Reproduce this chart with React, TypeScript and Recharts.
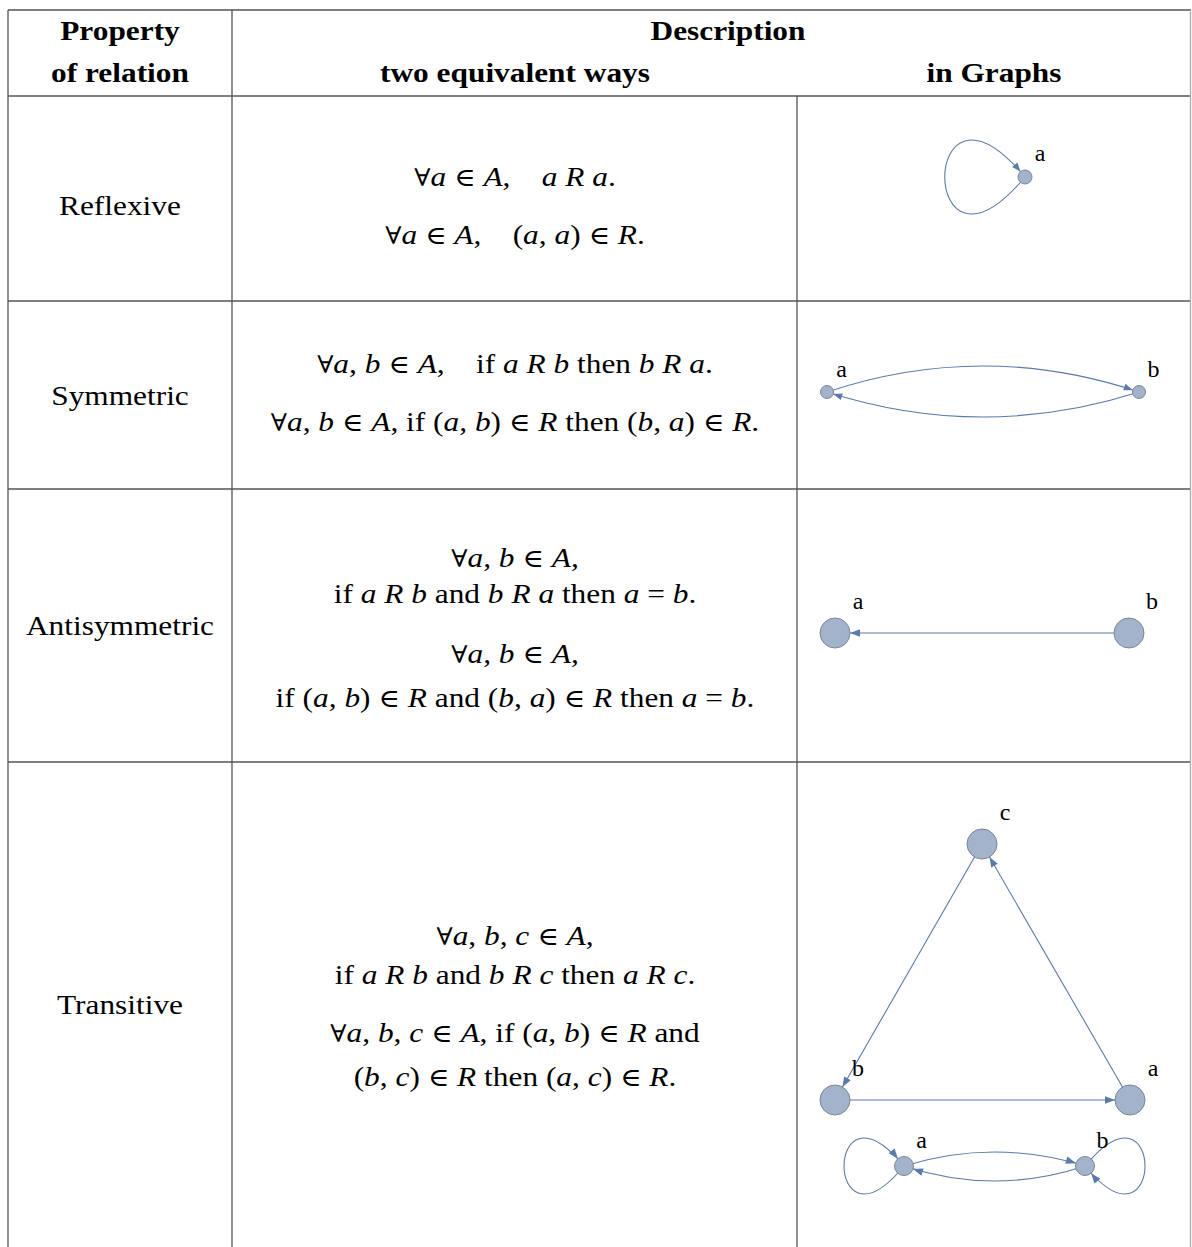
import React from 'react';
import { ScatterChart, Scatter, XAxis, YAxis } from 'recharts';

// header and row labels
const headerRow1 = ['Property', 'Description'];
const headerRow2 = ['of relation', 'two equivalent ways', 'in Graphs'];
const properties = ['Reflexive', 'Symmetric', 'Antisymmetric', 'Transitive'];

// description lines, $...$ marks math (letters italic)
const reflexiveLines = ['$∀a ∈ A,$\u2003$a R a.$', '$∀a ∈ A,$\u2003$(a, a) ∈ R.$'];
const symmetricLines = [
  '$∀a, b ∈ A,$\u2003if $a R b$ then $b R a.$',
  '$∀a, b ∈ A,$ if $(a, b) ∈ R$ then $(b, a) ∈ R.$',
];
const antisymmetricLines = [
  '$∀a, b ∈ A,$',
  'if $a R b$ and $b R a$ then $a = b.$',
  '$∀a, b ∈ A,$',
  'if $(a, b) ∈ R$ and $(b, a) ∈ R$ then $a = b.$',
];
const transitiveLines = [
  '$∀a, b, c ∈ A,$',
  'if $a R b$ and $b R c$ then $a R c.$',
  '$∀a, b, c ∈ A,$ if $(a, b) ∈ R$ and',
  '$(b, c) ∈ R$ then $(a, c) ∈ R.$',
];

type GNode = { name: string; x: number; y: number };
type GEdge = { from: string; to: string; via: number[][] };

// graph column coordinates (x right, y down)
const reflexiveNodes: GNode[] = [{ name: 'a', x: 228, y: 81 }];
const reflexiveEdges: GEdge[] = [{ from: 'a', to: 'a', via: [[121, 209], [121, -47]] }];

const symmetricNodes: GNode[] = [
  { name: 'a', x: 30, y: 296 },
  { name: 'b', x: 342, y: 296 },
];
const symmetricEdges: GEdge[] = [
  { from: 'a', to: 'b', via: [[186, 244]] },
  { from: 'b', to: 'a', via: [[186, 346]] },
];

const antisymmetricNodes: GNode[] = [
  { name: 'a', x: 38, y: 537 },
  { name: 'b', x: 332, y: 537 },
];
const antisymmetricEdges: GEdge[] = [{ from: 'b', to: 'a', via: [] }];

const transitiveNodes: GNode[] = [
  { name: 'c', x: 185, y: 748 },
  { name: 'b', x: 38, y: 1004 },
  { name: 'a', x: 333, y: 1004 },
];
const transitiveEdges: GEdge[] = [
  { from: 'c', to: 'b', via: [] },
  { from: 'a', to: 'c', via: [] },
  { from: 'b', to: 'a', via: [] },
];

const pairNodes: GNode[] = [
  { name: 'a', x: 107, y: 1070 },
  { name: 'b', x: 288, y: 1070 },
];
const pairEdges: GEdge[] = [
  { from: 'a', to: 'a', via: [[27, 1167], [27, 973]] },
  { from: 'a', to: 'b', via: [[197.5, 1042]] },
  { from: 'b', to: 'a', via: [[197.5, 1100]] },
  { from: 'b', to: 'b', via: [[368, 973], [368, 1167]] },
];

const graphs = [
  { nodes: reflexiveNodes, edges: reflexiveEdges, r: 7, head: 9 },
  { nodes: symmetricNodes, edges: symmetricEdges, r: 6.5, head: 9 },
  { nodes: antisymmetricNodes, edges: antisymmetricEdges, r: 15, head: 10 },
  { nodes: transitiveNodes, edges: transitiveEdges, r: 15, head: 10 },
  { nodes: pairNodes, edges: pairEdges, r: 9.5, head: 10 },
];

const descriptions = [reflexiveLines, symmetricLines, antisymmetricLines, transitiveLines];
const LABEL_Y = [215, 405, 635, 1014];
const DESC_Y = [[186, 244], [373, 431], [567, 603, 663, 707], [945, 984, 1042, 1086]];

const FONT = "'Liberation Serif', 'Times New Roman', serif";
const LINE = '#555';
const EDGE = '#5b7aa8';
const NODE_FILL = '#a3b3cb';
const NODE_STROKE = '#7a8696';
const STRETCH = 1.12;

const stretchAt = (cx: number) => `matrix(${STRETCH},0,0,1,${(1 - STRETCH) * cx},0)`;

const rich = (s: string) =>
  s.split('$').flatMap((seg, i) => {
    if (i % 2 === 0) return [<tspan key={`t${i}`}>{seg}</tspan>];
    return seg.split(/([A-Za-z]+|[∀∈])/).map((part, j) => {
      if (/^[∀∈]$/.test(part)) {
        return (
          <tspan key={`m${i}-${j}`} fontSize={part === '∈' ? 26 : 24} fontFamily="'DejaVu Serif', serif">
            {part}
          </tspan>
        );
      }
      return (
        <tspan key={`m${i}-${j}`} fontStyle={/^[A-Za-z]+$/.test(part) ? 'italic' : 'normal'}>
          {part}
        </tspan>
      );
    });
  });

const edgePoints = (nodes: GNode[], e: GEdge) => {
  const s = nodes.find((n) => n.name === e.from)!;
  const t = nodes.find((n) => n.name === e.to)!;
  return [{ x: s.x, y: s.y }, ...e.via.map(([x, y]) => ({ x, y })), { x: t.x, y: t.y }];
};

const edgeRenderer = (r: number, head: number) => (props: any) => {
  const pts: { x: number; y: number }[] = props.points || [];
  if (pts.length < 2) return <g />;
  const p0 = pts[0];
  const pn = pts[pts.length - 1];
  const prev = pts[pts.length - 2];
  let d = `M${p0.x},${p0.y}`;
  if (pts.length === 2) d += `L${pn.x},${pn.y}`;
  else if (pts.length === 3) d += `Q${pts[1].x},${pts[1].y} ${pn.x},${pn.y}`;
  else d += `C${pts[1].x},${pts[1].y} ${pts[2].x},${pts[2].y} ${pn.x},${pn.y}`;
  const dx = pn.x - prev.x;
  const dy = pn.y - prev.y;
  const len = Math.hypot(dx, dy) || 1;
  const ux = dx / len;
  const uy = dy / len;
  const tx = pn.x - ux * r;
  const ty = pn.y - uy * r;
  const bx = tx - ux * head;
  const by = ty - uy * head;
  const w = head * 0.38;
  return (
    <g>
      <path d={d} fill="none" stroke={EDGE} strokeWidth={1.1} />
      <polygon
        points={`${tx},${ty} ${bx - uy * w},${by + ux * w} ${bx + uy * w},${by - ux * w}`}
        fill={EDGE}
      />
    </g>
  );
};

const nodeRenderer = (r: number) => (props: any) => (
  <g>
    <circle cx={props.cx} cy={props.cy} r={r} fill={NODE_FILL} stroke={NODE_STROKE} strokeWidth={1} />
    <text
      x={props.cx + r + 8}
      y={props.cy - r - 9}
      textAnchor="middle"
      fontSize={24}
      fontFamily={FONT}
      fill="#000"
    >
      {props.payload?.name ?? props.name}
    </text>
  </g>
);

const blank = () => <g />;

export default function App() {
  return (
    <div style={{ position: 'absolute', left: 0, top: 0, width: 1192, height: 1247, background: '#fff' }}>
      <svg width={1192} height={1247} style={{ position: 'absolute', left: 0, top: 0 }} fontFamily={FONT}>
        {/* grid */}
        <line x1={8} x2={1191} y1={10} y2={10} stroke={LINE} strokeWidth={1.3} />
        {[96, 301, 489, 762].map((y) => (
          <line key={y} x1={8} x2={1191} y1={y} y2={y} stroke={LINE} strokeWidth={1.3} />
        ))}
        <line x1={8} x2={8} y1={10} y2={1247} stroke={LINE} strokeWidth={1.3} />
        <line x1={232} x2={232} y1={10} y2={1247} stroke={LINE} strokeWidth={1.3} />
        <line x1={797} x2={797} y1={96} y2={1247} stroke={LINE} strokeWidth={1.3} />
        <line x1={1190.5} x2={1190.5} y1={10} y2={1247} stroke="#aaa" strokeWidth={1.3} />

        {/* header */}
        <g fontWeight="bold" fontSize={28} textAnchor="middle">
          <text x={120} y={40} transform={stretchAt(120)}>{headerRow1[0]}</text>
          <text x={728} y={40} transform={stretchAt(728)}>{headerRow1[1]}</text>
          <text x={120} y={82} transform={stretchAt(120)}>{headerRow2[0]}</text>
          <text x={515} y={82} transform={stretchAt(515)}>{headerRow2[1]}</text>
          <text x={994} y={82} transform={stretchAt(994)}>{headerRow2[2]}</text>
        </g>

        {/* rows */}
        <g fontSize={28} textAnchor="middle" style={{ whiteSpace: 'pre' }}>
          {properties.map((p, i) => (
            <text key={p} x={120} y={LABEL_Y[i]} transform={stretchAt(120)}>
              {p}
            </text>
          ))}
          {descriptions.map((lines, i) =>
            lines.map((l, j) => (
              <text key={`${i}-${j}`} x={515} y={DESC_Y[i][j]} transform={stretchAt(515)}>
                {rich(l)}
              </text>
            ))
          )}
        </g>
      </svg>

      <div style={{ position: 'absolute', left: 797, top: 96 }}>
        <ScatterChart width={395} height={1151} margin={{ top: 0, right: 0, bottom: 0, left: 0 }}>
          <XAxis type="number" dataKey="x" domain={[0, 395]} allowDataOverflow hide />
          <YAxis type="number" dataKey="y" domain={[0, 1151]} allowDataOverflow reversed hide />
          {graphs.flatMap((g, gi) =>
            g.edges.map((e, ei) => (
              <Scatter
                key={`e${gi}-${ei}`}
                data={edgePoints(g.nodes, e)}
                line={edgeRenderer(g.r, g.head)}
                lineType="joint"
                shape={blank}
                isAnimationActive={false}
              />
            ))
          )}
          {graphs.map((g, gi) => (
            <Scatter key={`n${gi}`} data={g.nodes} shape={nodeRenderer(g.r)} isAnimationActive={false} />
          ))}
        </ScatterChart>
      </div>
    </div>
  );
}
